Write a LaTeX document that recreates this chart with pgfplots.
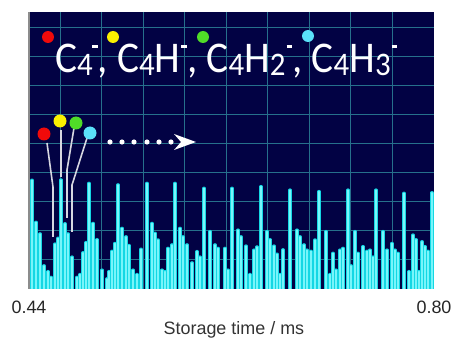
\documentclass[border=0pt]{standalone}
\usepackage{pgfplots}
\usepackage{pgfplotstable}
\pgfplotsset{compat=1.18}
\usepackage{fontspec}
\setmainfont{Liberation Sans}
\newfontfamily\carlito{Carlito}
\definecolor{navy}{RGB}{2,2,68}
\definecolor{gridc}{RGB}{38,112,140}
\definecolor{sig}{RGB}{20,215,228}
\definecolor{sigc}{RGB}{120,245,250}
\definecolor{dred}{RGB}{240,10,10}
\definecolor{dyel}{RGB}{250,240,0}
\definecolor{dgrn}{RGB}{80,220,40}
\definecolor{dcya}{RGB}{90,225,250}
\definecolor{ptr}{RGB}{215,215,225}
\newcommand{\sbs}[1]{\raisebox{-3.5bp}{\fontsize{33}{33}\selectfont #1}}
\newcommand{\dsh}{\rule[24bp]{6bp}{2.6bp}}
\pgfplotstableread{
t h
0.44267 3.75
0.44622 2.30
0.44978 1.90
0.45333 0.80
0.45689 0.60
0.45956 0.40
0.46311 1.55
0.46578 1.75
0.46844 3.76
0.47200 2.25
0.47467 1.90
0.47822 1.10
0.48267 0.40
0.48533 0.50
0.48800 1.25
0.49067 1.60
0.49333 3.64
0.49689 2.26
0.50044 1.70
0.50489 0.65
0.50933 0.35
0.51111 0.60
0.51378 1.30
0.51644 1.57
0.51911 3.59
0.52267 2.09
0.52622 1.80
0.52889 1.50
0.53244 0.65
0.53600 0.50
0.53956 1.37
0.54489 3.64
0.54933 2.26
0.55200 1.92
0.55467 1.69
0.55822 0.65
0.56089 0.60
0.56356 1.40
0.56711 1.52
0.56978 3.64
0.57422 2.09
0.57689 1.80
0.58044 1.52
0.58489 0.90
0.58933 1.29
0.59200 1.10
0.59556 3.47
0.60089 1.98
0.60533 1.52
0.60800 1.40
0.61422 1.40
0.61689 0.65
0.62044 3.47
0.62578 2.03
0.62844 1.80
0.63289 1.48
0.63644 0.50
0.64000 1.34
0.64267 1.45
0.64622 3.53
0.65156 1.98
0.65422 1.70
0.65778 1.48
0.66044 1.20
0.66311 0.50
0.66578 1.35
0.67200 3.41
0.67822 2.03
0.68089 1.80
0.68444 1.52
0.68711 1.34
0.69067 1.30
0.69422 1.69
0.69778 3.36
0.70400 1.98
0.70756 0.50
0.71022 1.23
0.71289 0.65
0.71644 1.34
0.71911 1.40
0.72356 3.41
0.72622 0.80
0.72978 1.98
0.73244 1.23
0.73689 1.46
0.74044 1.30
0.74311 1.34
0.74578 1.10
0.74844 3.41
0.75467 1.98
0.75822 1.34
0.76267 1.57
0.76533 1.34
0.76800 1.23
0.77333 3.30
0.77778 0.60
0.78133 1.86
0.78400 1.70
0.78667 0.60
0.78933 1.63
0.79200 1.46
0.79467 1.30
0.79822 3.32
}\spikes
\begin{document}
\begin{tikzpicture}
\path[use as bounding box] (0,0) rectangle (455bp,340bp);
\begin{axis}[at={(29bp,51bp)}, anchor=south west, scale only axis,
 width=405bp, height=277bp,
 xmin=0.44, xmax=0.80, ymin=0, ymax=9.55,
 axis background/.style={fill=navy},
 xtick={0.46756,0.50450,0.54144,0.57837,0.61531,0.65225,0.68919,0.72612,0.76306},
 xticklabels={}, ytick={1,2,3,4,5,6,7,8,9}, yticklabels={},
 grid=major, major grid style={gridc, line width=1bp},
 major tick length=0pt,
 extra x ticks={0.44,0.80}, extra x tick labels={0.44,0.80},
 extra x tick style={grid=none, major tick length=0pt,
   xticklabel style={font=\fontsize{18}{18}\selectfont, text=black!85, anchor=base, yshift=-24bp}},
 axis line style={draw=none},
 xlabel={Storage time / ms},
 xlabel style={font=\fontsize{18}{18}\selectfont, text=black!80, at={(axis description cs:0.506,0)}, anchor=base, yshift=-45bp},
]
\addplot[ycomb, sig, line width=3.4bp, line cap=round] table[x=t, y=h] {\spikes};
\addplot[ycomb, sigc, line width=1.1bp, line cap=round] table[x=t, y=h] {\spikes};
\end{axis}
\begin{scope}[x=1bp,y=1bp]
\draw[black!45, line width=1.5] (29,51) -- (29,328);
\draw[ptr, line width=1.6] (47,197) -- (53,153) -- (53,103);
\draw[ptr, line width=1.6] (61,210) -- (61,163);
\draw[ptr, line width=1.6] (74,212) -- (67,170) -- (67,122);
\draw[ptr, line width=1.6] (87,202) -- (72,155) -- (72,108);
\fill[dred] (44,206) circle (6.5);
\fill[dyel] (60,219) circle (6.5);
\fill[dgrn] (76,217) circle (6.5);
\fill[dcya] (90,207) circle (6.5);
\foreach \x in {110,122,134,147,159,171} \fill[white] (\x,198) circle (2.6);
\fill[white] (196,198) -- (174,206) -- (181,198) -- (174,190) -- cycle;
\node[anchor=base west, text=white, inner sep=0pt, xscale=0.94] at (55,268)
 {\carlito\fontsize{44}{44}\selectfont C\sbs{4}\kern-1bp\dsh, C\sbs{4}H\kern1bp\dsh, C\sbs{4}H\sbs{2}\kern1bp\dsh, C\sbs{4}H\sbs{3}\kern1bp\dsh};
\fill[dred] (48,303) circle (6);
\fill[dyel] (113,303) circle (6);
\fill[dgrn] (203,303) circle (6);
\fill[dcya] (308,304) circle (6);
\end{scope}
\end{tikzpicture}
\end{document}
